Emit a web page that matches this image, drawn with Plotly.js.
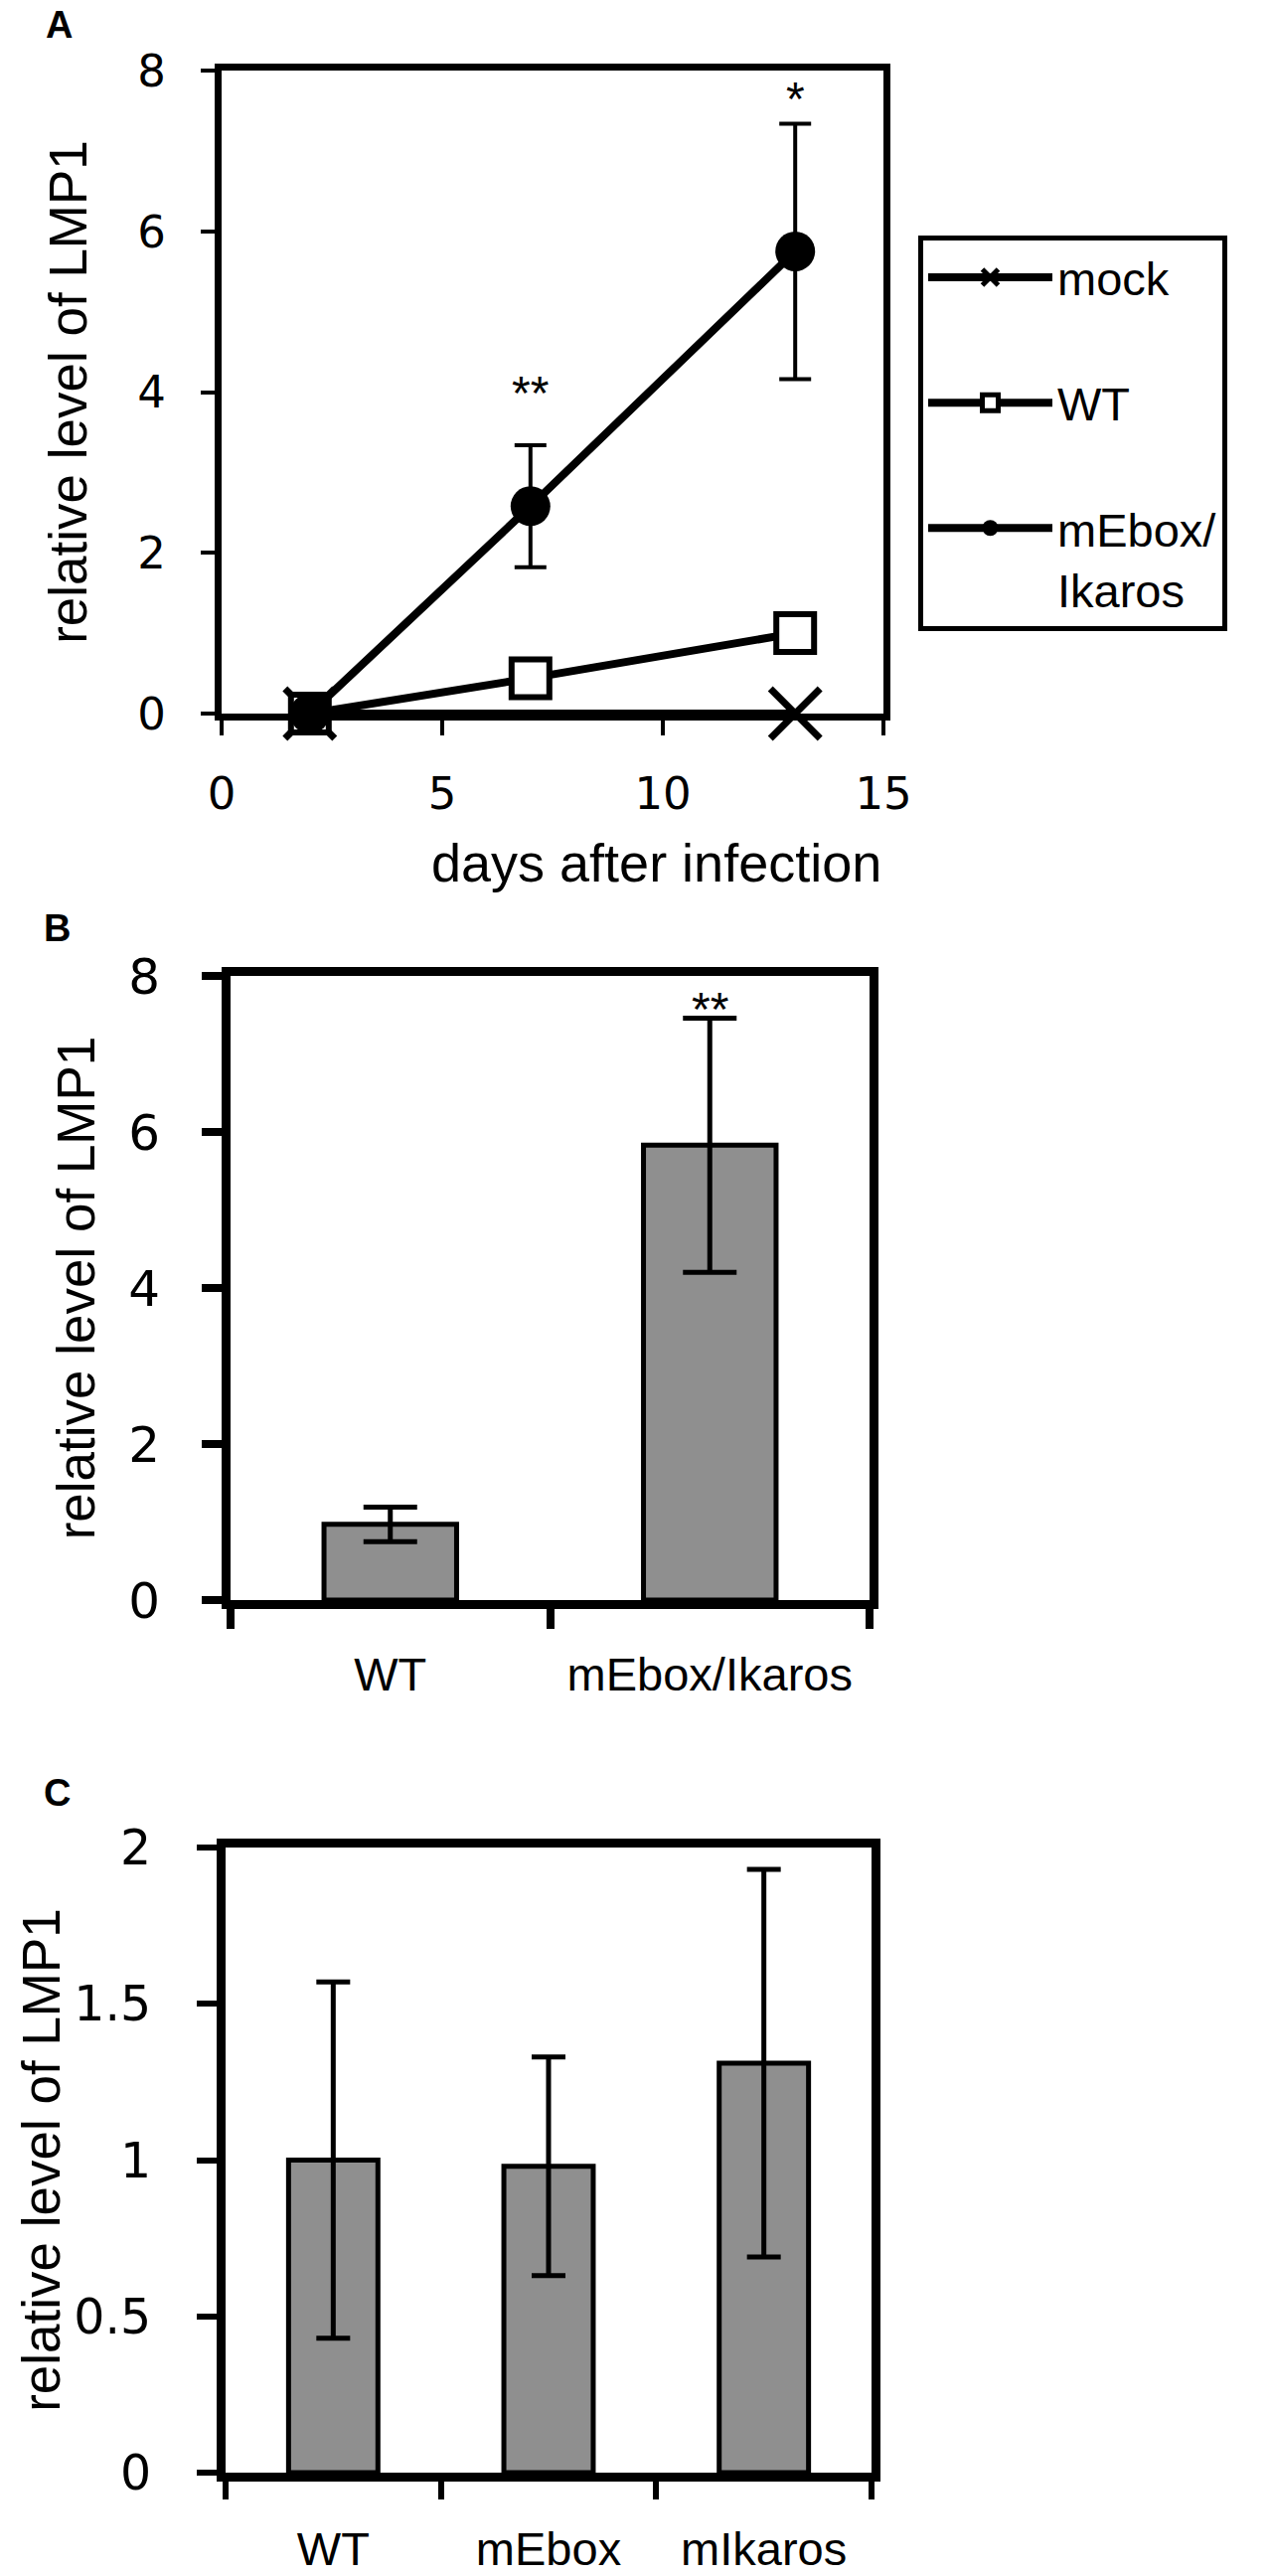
<!DOCTYPE html>
<html>
<head>
<meta charset="utf-8">
<script src="https://cdn.plot.ly/plotly-3.0.1.min.js"></script>
<style>html,body{margin:0;padding:0;background:#fff;}</style>
</head>
<body>
<div id="chart" style="width:1280px;height:2592px;"></div>
<script>
// ---------- Panel A data ----------
const daysMock = [2, 13];
const levelMock = [0, 0];
const daysWT = [2, 7, 13];
const levelWT = [0, 0.44, 1.0];
const daysMut = [2, 7, 13];
const levelMut = [0, 2.58, 5.75];
const errMut = [0, 0.76, 1.59];
const seriesNames = ['mock', 'WT', 'mEbox/<br>Ikaros'];
const sigAx = [7, 13];
const sigAy = [3.99, 7.65];
const sigAtext = ['**', '*'];
const ticksA_x = [0, 5, 10, 15];
const ticksA_y = [0, 2, 4, 6, 8];

// ---------- Panel B data ----------
const catsB = ['WT', 'mEbox/Ikaros'];
const valsB = [0.97, 5.83];
const errB = [0.22, 1.63];
const sigBcat = ['mEbox/Ikaros'];
const sigBy = [7.57];
const sigBtext = ['**'];
const ticksB_y = [0, 2, 4, 6, 8];

// ---------- Panel C data ----------
const catsC = ['WT', 'mEbox', 'mIkaros'];
const valsC = [1.0, 0.98, 1.31];
const errC = [0.57, 0.35, 0.62];
const ticksC_y = [0, 0.5, 1, 1.5, 2];

// ---------- helpers ----------
const FONT = 'Liberation Sans, Arial, sans-serif';   // titles, labels, legend
const NUMFONT = 'DejaVu Sans, Verdana, sans-serif';  // numeric tick labels
const W = 1280, H = 2592;
const fx = p => p / W;
const fy = p => 1 - p / H;

function ax(o) {
  return Object.assign({
    showline: true, linecolor: 'black', mirror: true,
    showgrid: false, zeroline: false,
    ticks: 'outside', tickcolor: 'black',
    tickfont: {family: NUMFONT, size: 45, color: 'black'},
    fixedrange: true
  }, o);
}

const barColor = '#8f8f8f';

const traces = [
  {
    type: 'scatter', mode: 'lines+markers', name: seriesNames[0], legendgroup: 'g1',
    x: daysMock, y: levelMock, xaxis: 'x', yaxis: 'y', cliponaxis: false,
    line: {color: 'black', width: 8},
    marker: {symbol: 'x-thin', size: 50, color: 'black', line: {color: 'black', width: 7}}
  },
  {
    type: 'scatter', mode: 'lines+markers', name: seriesNames[1], legendgroup: 'g2',
    x: daysWT, y: levelWT, xaxis: 'x', yaxis: 'y', cliponaxis: false,
    line: {color: 'black', width: 8},
    marker: {symbol: 'square', size: 38, color: 'white', line: {color: 'black', width: 6}}
  },
  {
    type: 'scatter', mode: 'lines+markers', name: seriesNames[2], legendgroup: 'g3',
    x: daysMut, y: levelMut, xaxis: 'x', yaxis: 'y', cliponaxis: false,
    line: {color: 'black', width: 8},
    marker: {symbol: 'circle', size: 40, color: 'black'},
    error_y: {type: 'data', array: errMut, visible: true, color: 'black', thickness: 4, width: 16}
  },
  {
    type: 'bar', x: catsB, y: valsB, xaxis: 'x2', yaxis: 'y2', showlegend: false,
    marker: {color: barColor, line: {color: 'black', width: 5}},
    error_y: {type: 'data', array: errB, visible: true, color: 'black', thickness: 5, width: 27}
  },
  {
    type: 'bar', x: catsC, y: valsC, xaxis: 'x3', yaxis: 'y3', showlegend: false,
    marker: {color: barColor, line: {color: 'black', width: 5}},
    error_y: {type: 'data', array: errC, visible: true, color: 'black', thickness: 5, width: 17}
  }
];

const annotations = [];
sigAtext.forEach((t, i) => annotations.push({
  xref: 'x', yref: 'y', x: sigAx[i], y: sigAy[i], text: t, showarrow: false,
  font: {family: FONT, size: 48, color: 'black'}, xanchor: 'center', yanchor: 'middle'
}));
sigBtext.forEach((t, i) => annotations.push({
  xref: 'x2', yref: 'y2', x: sigBcat[i], y: sigBy[i], text: t, showarrow: false,
  font: {family: FONT, size: 48, color: 'black'}, xanchor: 'center', yanchor: 'middle'
}));
// x-axis title of panel A (offset to the right as in the original)
annotations.push({
  xref: 'paper', yref: 'paper', x: fx(660), y: fy(868), text: 'days after infection',
  showarrow: false, font: {family: FONT, size: 54, color: 'black'}, xanchor: 'center', yanchor: 'middle'
});
// panel letters
[['A', 59, 25], ['B', 57, 934], ['C', 57, 1804]].forEach(p => annotations.push({
  xref: 'paper', yref: 'paper', x: fx(p[1]), y: fy(p[2]), text: '<b>' + p[0] + '</b>',
  showarrow: false, font: {family: 'Liberation Sans', size: 38, color: 'black'},
  xanchor: 'center', yanchor: 'middle'
}));

const titleFont = {family: FONT, size: 53, color: 'black'};

const layout = {
  width: W, height: H,
  margin: {l: 0, r: 0, t: 0, b: 0},
  paper_bgcolor: 'white', plot_bgcolor: 'white',
  font: {family: FONT, color: 'black'},
  bargap: 0.585,
  showlegend: true,
  legend: {
    x: fx(924), y: fy(237), xanchor: 'left', yanchor: 'top',
    bgcolor: 'white', bordercolor: 'black', borderwidth: 5,
    font: {family: FONT, size: 47, color: 'black'},
    tracegroupgap: 62, traceorder: 'grouped', valign: 'top', itemwidth: 125
  },
  xaxis: ax({
    domain: [fx(223), fx(889)], anchor: 'y', range: [0, 15],
    tickmode: 'array', tickvals: ticksA_x,
    linewidth: 7, ticklen: 15, tickwidth: 4, ticklabelstandoff: 20
  }),
  yaxis: ax({
    domain: [fy(718), fy(71)], anchor: 'x', range: [0, 8],
    tickmode: 'array', tickvals: ticksA_y,
    linewidth: 7, ticklen: 14, tickwidth: 4, ticklabelstandoff: 26,
    title: {text: 'relative level of LMP1', font: titleFont, standoff: 36}
  }),
  xaxis2: ax({
    domain: [fx(232), fx(875)], anchor: 'y2', type: 'category',
    tickson: 'boundaries', linewidth: 9, ticklen: 20, tickwidth: 8, ticklabelstandoff: 26,
    tickfont: {family: FONT, size: 47, color: 'black'}
  }),
  yaxis2: ax({
    domain: [fy(1610), fy(982)], anchor: 'x2', range: [0, 8],
    tickmode: 'array', tickvals: ticksB_y,
    linewidth: 9, ticklen: 20, tickwidth: 8, ticklabelstandoff: 32,
    tickfont: {family: NUMFONT, size: 50, color: 'black'},
    title: {text: 'relative level of LMP1', font: titleFont, standoff: 20}
  }),
  xaxis3: ax({
    domain: [fx(227), fx(877)], anchor: 'y3', type: 'category',
    tickson: 'boundaries', linewidth: 9, ticklen: 18, tickwidth: 6, ticklabelstandoff: 28,
    tickfont: {family: FONT, size: 47, color: 'black'}
  }),
  yaxis3: ax({
    domain: [fy(2488), fy(1859)], anchor: 'x3', range: [0, 2],
    tickmode: 'array', tickvals: ticksC_y,
    linewidth: 9, ticklen: 20, tickwidth: 6, ticklabelstandoff: 36,
    tickfont: {family: NUMFONT, size: 49, color: 'black'},
    title: {text: 'relative level of LMP1', font: titleFont, standoff: 0}
  }),
  annotations: annotations
};

Plotly.newPlot('chart', traces, layout, {staticPlot: true, displayModeBar: false});
</script>
</body>
</html>
